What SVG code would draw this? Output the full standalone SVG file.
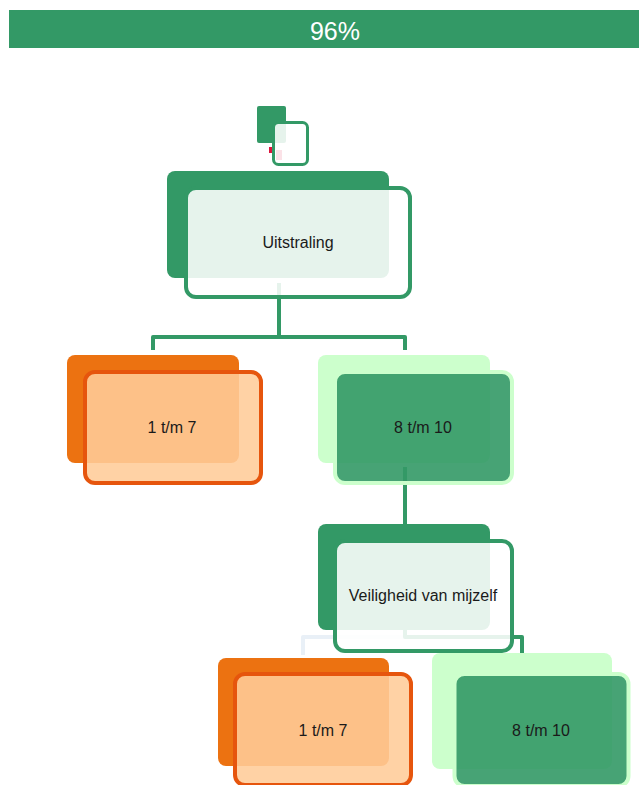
<svg xmlns="http://www.w3.org/2000/svg" width="639" height="785" viewBox="0 0 639 785">
<style>
.bg-g{fill:#339966}
.fr-g{fill:#ffffff;fill-opacity:0.88;stroke:#339966;stroke-width:4}
.bg-o{fill:#ec7211}
.fr-o{fill:#ffcc99;fill-opacity:0.88;stroke:#e6550d;stroke-width:4}
.bg-l{fill:#ccffcc}
.fr-l{fill:#339966;fill-opacity:0.9;stroke:#ccffcc;stroke-width:4}
.lbl{font-family:"Liberation Sans",Arial,sans-serif;font-size:16px;fill:#1a1a1a;text-anchor:middle}
.conn{fill:none;stroke:#339966;stroke-width:4;stroke-linejoin:round}
</style>
<rect x="9" y="10" width="630" height="38" fill="#339966"/>
<text x="335" y="40" font-family="'Liberation Sans',Arial,sans-serif" font-size="25" fill="#ffffff" text-anchor="middle">96%</text>
<g id="connectors">
<rect x="269" y="147" width="4" height="6" fill="#dc143c"/>
<rect x="276" y="150" width="6" height="10" fill="#dc143c"/>
<path class="conn" d="M279,283 V337 H153 V350"/>
<path class="conn" d="M279,337 H405 V350"/>
<path class="conn" d="M405,467 V524"/>
<path class="conn" style="stroke:#e9f0f7" d="M405,637 H303 V655"/>
<path class="conn" d="M405,620 V637 H522 V653"/>
</g>
<g id="node-top">
<rect class="bg-g" x="257" y="106" width="29" height="37" rx="2"/>
<rect class="fr-g" x="273.5" y="122.5" width="34" height="42" rx="5" style="stroke-width:3"/>
</g>
<g id="node-uitstraling">
<rect class="bg-g" x="167" y="171" width="222" height="107" rx="8"/>
<rect class="fr-g" x="186" y="188" width="224" height="109" rx="10"/>
<text class="lbl" x="298" y="248">Uitstraling</text>
</g>
<g id="node-1-7-a">
<rect class="bg-o" x="67" y="355" width="172" height="108" rx="8"/>
<rect class="fr-o" x="85" y="372" width="176" height="111" rx="10"/>
<text class="lbl" x="172" y="433">1 t/m 7</text>
</g>
<g id="node-8-10-a">
<rect class="bg-l" x="318" y="355" width="172" height="108" rx="8"/>
<rect class="fr-l" x="335" y="372" width="177" height="111" rx="10"/>
<text class="lbl" x="423" y="433">8 t/m 10</text>
</g>
<g id="node-veiligheid">
<rect class="bg-g" x="318" y="524" width="172" height="106" rx="8"/>
<rect class="fr-g" x="335" y="541" width="177" height="110" rx="10"/>
<text class="lbl" x="423" y="601">Veiligheid van mijzelf</text>
</g>
<g id="node-1-7-b">
<rect class="bg-o" x="218" y="658" width="171" height="108" rx="8"/>
<rect class="fr-o" x="235" y="674" width="176" height="111" rx="10"/>
<text class="lbl" x="323" y="736">1 t/m 7</text>
</g>
<g id="node-8-10-b">
<rect class="bg-l" x="432" y="653" width="180" height="116" rx="8"/>
<rect class="fr-l" x="454.5" y="674" width="174" height="112" rx="10"/>
<text class="lbl" x="541" y="736">8 t/m 10</text>
</g>
</svg>
